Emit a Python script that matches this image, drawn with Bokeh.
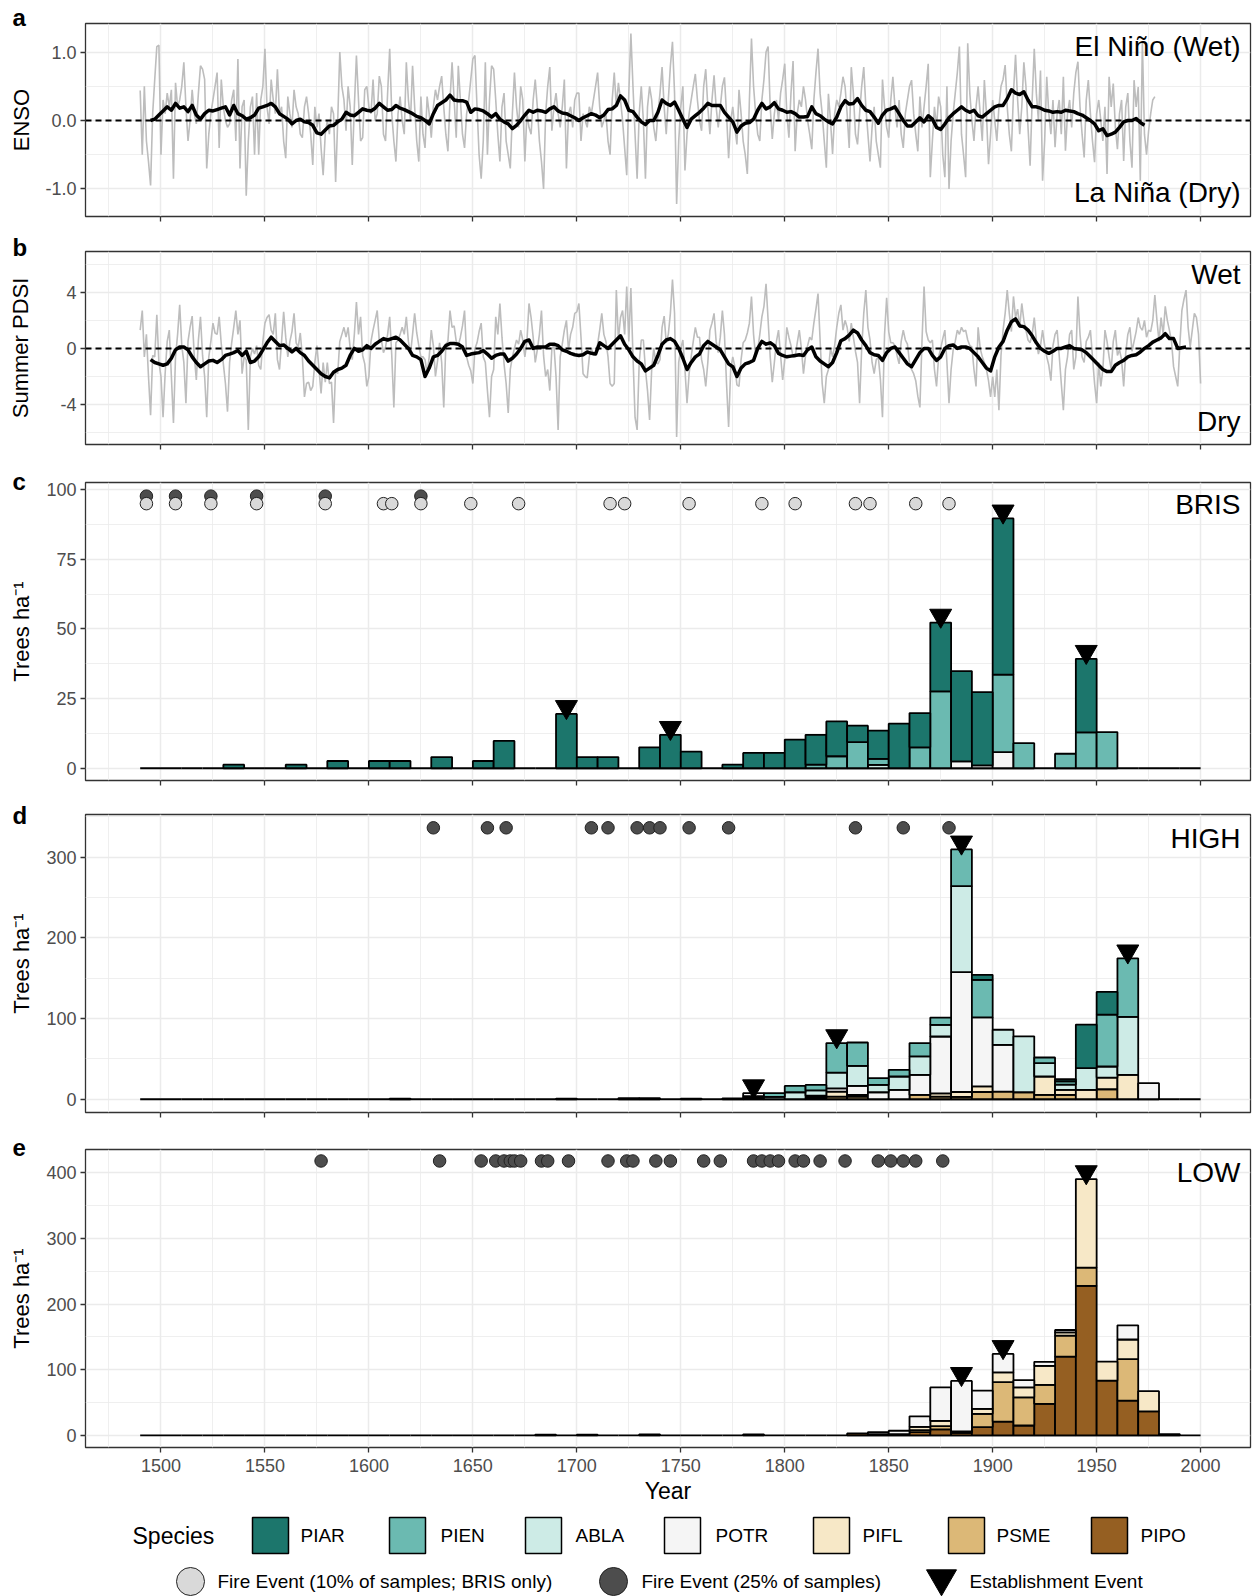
from bokeh.plotting import figure
from bokeh.layouts import column
from bokeh.models import Range1d, FixedTicker, Span, Label
from bokeh.embed import file_html
from bokeh.resources import INLINE
from bokeh.core.properties import value

# ---------------- DATA ----------------
# ENSO annual reconstruction (grey), one value per year from 1490
enso_start = 1490
enso_annual = [
    0.44, -0.5, 0.5, -0.3, -0.6, -0.95, 0.1, 0.6, 1.08, 1.1,
    -0.5, 0.3, 0.1, 0.4, 0.2, 0.45, -0.85, 0.55, 0.2, 0.3,
    0.5, 0.85, 0.2, -0.3, 0.0, 0.45, 0.1, -0.05, 0.4, 0.8,
    0.75, 0.6, -0.7, -0.2, 0.1, 0.3, 0.5, 0.7, -0.4, 0.6,
    0.2, 0.0, -0.1, -0.05, 0.3, 0.45, -0.3, 0.9, -0.7, 0.2,
    0.3, -1.1, -0.3, 0.2, 0.35, -0.5, 0.4, -0.5, 0.3, 0.5,
    1.05, 0.2, -0.05, 0.6, 0.3, 0.1, 0.75, 0.1, 0.2, -0.3,
    -0.55, 0.35, 0.1, -0.1, 0.45, 0.2, 0.1, -0.2, -0.25, 0.2,
    0.35, 0.1, -0.2, -0.65, 0.2, -0.1, 0.1, -0.4, -0.8, -0.2,
    0.0, -0.2, 0.2, 0.1, -0.9, 0.0, 1.0, 0.5, 0.3, -0.15,
    0.5, 0.2, -0.65, 0.2, 0.95, 0.3, -0.3, -0.25, 0.45, 0.5,
    0.2, 0.1, 0.6, 0.0, 0.1, 0.65, 0.5, -0.2, -0.3, 0.4,
    1.05, 0.1, -0.3, -0.6, 0.1, 0.35, 0.0, -0.2, 0.85, 0.3,
    0.0, 0.8, 0.2, -0.3, -0.6, 0.35, -0.2, -0.4, 0.35, 0.1,
    -0.25, 0.2, 0.45, 0.3, 0.5, 0.65, 0.2, -0.2, -0.45, 0.3,
    0.85, 0.3, -0.25, 0.8, 0.3, -0.2, -0.4, 0.1, 0.3, 0.6,
    0.9, 0.95, 0.2, -0.5, -0.85, -0.3, 0.85, -0.5, 0.3, 0.8,
    0.75, 0.3, -0.2, -0.6, 0.2, 0.4, -0.3, -0.5, -0.7, 0.1,
    0.7, 0.2, -0.1, 0.5, 0.3, -0.6, 0.1, -0.1, -0.2, 0.3,
    0.6, 0.2, -0.3, -0.6, -1.0, 0.1, 0.5, 0.78, -0.15, 0.2,
    0.4, 0.1, -0.1, 0.2, 0.6, -0.7, 0.1, 0.2, -0.1, 0.3,
    0.4, 0.4, -0.3, 0.1, 0.0, -0.1, 0.2, 0.1, 0.3, 0.5,
    0.7, 0.2, -0.1, 0.0, 0.1, -0.3, -0.5, 0.3, 0.7, 0.2,
    0.55, 0.3, 0.0, -0.4, -0.8, 0.4, 1.27, 0.5, -0.2, -0.85,
    0.1, 0.5, 0.0, -0.85, 0.2, 0.5, 0.3, -0.1, -0.3, 0.1,
    0.4, 0.78, 0.2, -0.2, 0.3, 0.8, 1.15, 0.4, -1.22, -0.3,
    0.2, 0.5, -0.73, -0.2, 0.1, 0.3, 0.5, 0.68, 0.3, 0.0,
    -0.15, 0.5, 0.75, 0.2, -0.2, 0.3, 0.66, 0.2, -0.1, 0.2,
    0.5, 0.63, 0.1, -0.55, 0.0, 0.2, -0.1, -0.35, 0.45, 0.1,
    -0.3, -0.5, -0.78, 0.3, 1.2, 0.5, 0.1, -0.2, -0.3, 0.3,
    0.6, 1.0, 1.08, 0.2, -0.27, 0.1, 0.3, 0.0, 0.4, 0.6,
    0.83, 0.1, -0.25, 0.4, 0.87, -0.45, 0.1, 0.3, 0.2, 0.5,
    0.3, 0.0, -0.2, -0.42, 0.3, 0.7, 1.05, 0.4, 0.1, -0.3,
    -0.69, 0.39, 0.0, -0.49, 0.1, 0.3, 0.2, 0.4, 0.64, 0.5,
    0.1, -0.4, 0.78, 0.4, -0.2, -0.35, 0.1, 0.5, 0.78, 0.2,
    -0.2, -0.6, -0.1, 0.2, -0.3, -0.5, -0.69, 0.6, 0.2, -0.1,
    -0.25, 0.3, 0.64, 0.2, -0.1, 0.3, -0.2, -0.4, 0.1, 0.3,
    0.5, 0.59, 0.1, -0.2, -0.45, 0.35, -0.1, 0.2, 0.5, 0.83,
    -0.83, -0.3, 0.2, -0.1, 0.35, 0.2, -0.5, -0.83, 0.5, -1.0,
    -0.3, 0.1, 0.4, 0.7, 1.08, -0.2, -0.5, -0.83, 1.13, 0.4,
    0.0, -0.3, 0.2, 0.5, 0.1, -0.3, 0.59, 0.1, -0.64, -0.2,
    0.3, 0.0, -0.3, 0.2, 0.5, 0.6, 0.81, 0.2, -0.2, -0.45,
    0.4, 0.96, 0.3, -0.2, 0.2, 0.85, 0.5, -0.1, -0.66, 0.3,
    1.05, 0.4, 0.0, 0.73, -0.88, -0.3, 0.64, 0.1, -0.2, 0.3,
    -0.39, 0.1, 0.3, -0.2, 0.64, -0.44, 0.1, 0.3, -0.1, 0.4,
    0.7, 0.86, 0.2, -0.2, -0.54, 0.3, 0.59, 0.1, -0.3, -0.61,
    0.1, 0.3, 0.0, -0.3, 0.2, -0.78, 0.64, 0.2, 0.54, -0.1,
    -0.42, 0.1, 0.3, -0.59, 0.2, 0.4, -0.3, -0.69, 0.59, 0.2,
    0.49, -0.88, 1.15, -0.2, -0.5, -0.15, 0.1, 0.3, 0.35,
]
# ENSO smoothed (black), every second year from 1495
enso_smooth_start = 1495
enso_smooth = [
    0.0, 0.02, 0.08, 0.14, 0.2, 0.15, 0.25, 0.18, 0.2, 0.13,
    0.22, 0.08, 0.02, 0.1, 0.15, 0.14, 0.16, 0.18, 0.2, 0.08,
    0.22, 0.1, 0.07, 0.02, 0.04, 0.08, 0.18, 0.2, 0.22, 0.25,
    0.2, 0.1, 0.06, 0.02, -0.05, 0.0, 0.02, -0.02, -0.03, -0.07,
    -0.18, -0.2, -0.14, -0.08, -0.07, -0.02, 0.02, 0.12, 0.08, 0.07,
    0.12, 0.17, 0.15, 0.14, 0.18, 0.25, 0.2, 0.15, 0.16, 0.22,
    0.18, 0.16, 0.13, 0.1, 0.06, 0.04, 0.0, -0.05, 0.1, 0.22,
    0.26, 0.3, 0.37, 0.3, 0.29, 0.29, 0.27, 0.12, 0.17, 0.16,
    0.14, 0.1, 0.05, 0.1, 0.02, -0.02, -0.05, -0.12, -0.07, 0.0,
    0.08, 0.15, 0.12, 0.15, 0.14, 0.12, 0.17, 0.2, 0.14, 0.11,
    0.1, 0.07, 0.04, 0.0, 0.04, 0.07, 0.1, 0.08, 0.04, 0.08,
    0.16, 0.17, 0.22, 0.36, 0.3, 0.15, 0.13, 0.05, -0.02, -0.06,
    0.0, 0.0, 0.12, 0.3, 0.25, 0.22, 0.27, 0.15, 0.02, -0.1,
    0.02, 0.07, 0.12, 0.18, 0.25, 0.22, 0.22, 0.22, 0.12, 0.05,
    -0.02, -0.17, -0.08, -0.04, -0.03, 0.02, 0.15, 0.25, 0.17, 0.2,
    0.26, 0.17, 0.15, 0.12, 0.13, 0.1, 0.05, 0.05, 0.06, 0.2,
    0.1, 0.07, 0.02, -0.02, -0.05, 0.05, 0.2, 0.29, 0.24, 0.25,
    0.32, 0.22, 0.15, 0.13, 0.05, -0.04, 0.08, 0.15, 0.17, 0.2,
    0.1, 0.0, -0.08, -0.08, -0.02, 0.04, -0.02, 0.07, 0.02, -0.1,
    -0.13, -0.05, 0.04, 0.1, 0.15, 0.2, 0.15, 0.12, 0.15, 0.07,
    0.05, 0.1, 0.15, 0.2, 0.22, 0.22, 0.32, 0.45, 0.4, 0.38,
    0.42, 0.3, 0.2, 0.2, 0.18, 0.15, 0.14, 0.12, 0.13, 0.12,
    0.15, 0.14, 0.13, 0.1, 0.08, 0.04, 0.0, -0.05, -0.15, -0.12,
    -0.22, -0.2, -0.17, -0.1, -0.02, 0.0, 0.0, 0.03, -0.03, -0.07,
]
# Summer PDSI annual (grey), one value per year from 1490
pdsi_start = 1490
pdsi_annual = [
    1.3, 2.7, -0.6, 1.0, -2.0, -4.75, -0.5, -0.6, 2.4, -1.0,
    -2.0, -4.9, -1.8, 0.5, 1.3, -2.0, -5.3, -0.6, 1.0, 3.1,
    0.2, -1.0, -3.9, 0.5, 1.5, 2.3, -0.5, -2.25, 0.6, 2.25,
    -0.5, -2.0, -4.9, -0.6, 0.5, 1.8, 1.1, 1.0, 2.25, 0.3,
    -1.1, -2.5, -4.5, -1.0, 0.4, 1.5, 2.7, 1.0, 2.0, -1.8,
    -0.6, -0.8, -5.8, -0.6, 0.0, -0.4, 0.2, -1.2, -1.5, 0.5,
    1.8, 2.2, 2.4, 1.3, 1.0, 2.5, -0.8, -1.5, 0.5, 2.6,
    0.8, -0.6, 0.5, 1.2, 2.5, 0.4, 0.1, 1.1, -0.6, -3.45,
    -2.5, -2.4, -3.0, -2.7, -1.0, 0.2, -1.5, -3.2, -1.0, -2.4,
    -1.0, -2.5, -2.4, -5.3, -1.5, -1.8, 0.5, 1.0, 1.5, 0.8,
    1.5, 0.0, -0.8, 1.0, 3.3, 1.0, 2.25, -0.5, -1.1, -2.7,
    -2.0, 0.5, 1.3, 2.0, 2.7, 0.5, 0.6, -0.3, 0.1, 1.0,
    2.25, -0.5, -4.2, 0.4, 0.6, 1.0, 1.5, 1.0, 2.25, 0.5,
    -0.4, 1.0, 2.5, 1.1, 0.2, -0.6, -0.6, -0.8, -1.8, -0.6,
    1.3, 0.2, -2.0, -0.9, 0.4, -1.0, -4.2, 0.3, 0.5, 2.7,
    1.5, 1.6, 0.5, 0.2, 0.8, 1.6, 2.7, -0.6, -1.2, -1.6,
    -2.5, 0.0, 0.4, 1.2, 1.8, -0.6, -1.0, -3.0, -4.9, -2.0,
    -1.5, 2.25, 1.0, 3.2, 0.8, -1.1, -2.5, -4.6, -1.5, -0.6,
    0.0, 0.6, 0.3, 1.3, 0.6, -0.6, 0.5, 3.2, 2.2, 0.8,
    -1.0, -0.1, 1.0, 2.7, -0.5, -2.0, -1.5, -3.0, 0.0, 0.2,
    -2.0, -5.8, -0.6, 0.3, 1.3, 2.0, -0.1, 1.0, 1.5, 2.5,
    2.6, 3.2, 0.8, -1.8, -2.0, -2.1, -0.6, 0.0, -0.5, -0.4,
    0.3, 1.3, 2.5, 1.0, 0.5, -0.6, -2.5, -2.7, -2.5, 4.15,
    0.6, 2.2, 2.7, 1.0, 4.4, 0.5, 4.3, -0.5, -4.9, -5.8,
    -1.0, 0.6, 0.6, -1.5, -3.0, -5.1, -1.5, 0.0, -1.0, -1.1,
    -0.8, 1.5, 2.3, 0.4, 1.0, 2.5, 4.9, 2.5, -6.3, -1.0,
    0.0, 0.6, -1.5, -3.9, -1.8, -0.6, 0.5, 1.5, 0.8, 0.8,
    -0.8, -1.5, -2.7, -1.0, 1.3, 1.8, 2.5, 0.5, -0.3, 0.8,
    2.7, 1.0, -2.5, -5.6, -1.5, -0.6, -1.3, -2.6, -2.7, -0.8,
    0.4, 0.6, 1.1, 1.8, 3.7, 1.0, -0.6, -0.1, 1.0, 2.25,
    3.0, 4.6, 2.0, -0.6, -2.4, -1.0, 0.5, 1.3, -0.5, -2.25,
    -0.8, 1.5, 0.8, 0.2, -0.6, -0.6, 0.4, 1.3, 0.0, -1.8,
    -0.5, 0.2, 0.8, 0.6, 1.8, 2.8, 3.9, 0.6, -2.5, -3.9,
    -2.0, -1.5, 0.0, -0.6, 0.2, 1.5, 2.5, 3.1, 1.3, 2.0,
    1.5, 0.5, 1.8, 0.8, -0.2, -1.0, -3.9, 0.0, 2.5, 4.15,
    1.5, 0.6, -1.0, -1.8, -0.8, -0.6, -2.2, -4.9, 1.0, 3.6,
    1.2, 0.4, 0.4, 0.2, -0.5, -1.1, 0.5, 1.3, 0.6, 0.3,
    -1.0, -1.5, -1.8, -2.3, -3.4, -4.2, 0.5, 4.4, 1.2, 0.6,
    0.4, 0.6, -1.5, -2.7, -0.6, 0.0, 0.7, 1.3, -1.0, -3.9,
    -1.5, -0.1, 0.5, 1.3, 1.0, 1.5, 1.2, 1.3, 0.6, 0.2,
    0.1, -1.5, -2.7, 1.5, 0.0, -0.6, -1.0, -1.5, -2.3, -3.45,
    -2.0, -3.45, -1.5, -4.4, -0.5, 1.3, 2.5, 4.15, 2.5, 1.2,
    3.7, 2.2, 2.8, 1.5, 3.2, 2.0, 1.3, 0.6, 0.4, 1.0,
    2.2, 0.6, -0.4, 0.2, 1.3, 0.2, -0.6, -1.2, -2.3, 0.2,
    1.0, 1.3, -0.5, -2.5, -4.4, -1.5, -0.6, 1.0, 1.3, -1.5,
    -0.6, 3.7, 1.0, -0.6, -1.0, 0.5, 0.8, 1.3, -0.6, -2.5,
    -3.9, -1.0, -2.7, -1.5, 1.3, 0.5, -0.6, -1.5, 0.5, 1.3,
    -0.5, -0.1, -0.8, -2.7, -0.3, 1.0, 1.5, -0.2, 0.5, 1.2,
    2.2, 1.5, 1.3, 2.0, 0.8, 1.3, 1.2, 2.0, 3.8, 2.0,
    0.5, 2.2, 1.0, 3.0, 2.0, 1.3, 0.5, -1.3, -2.0, -2.7,
    0.2, 2.7, 3.5, 4.15, 1.5, 0.1, 1.3, 2.5, 2.2, 1.0,
    -2.5,
]
# Summer PDSI smoothed (black), every second year from 1495
pdsi_smooth_start = 1495
pdsi_smooth = [
    -0.8, -1.0, -1.1, -1.2, -1.1, -0.7, -0.1, 0.1, 0.1, -0.1,
    -0.6, -1.0, -1.3, -1.1, -0.9, -0.85, -1.0, -0.8, -0.5, -0.4,
    -0.3, -0.15, -0.5, -0.2, -1.0, -0.9, -0.6, -0.1, 0.4, 0.8,
    0.5, 0.2, 0.25, 0.0, -0.25, 0.0, -0.3, -0.5, -0.9, -1.2,
    -1.5, -1.8, -2.0, -2.1, -1.7, -1.5, -1.4, -1.2, -0.5, 0.0,
    -0.2, -0.1, 0.2, 0.0, 0.3, 0.5, 0.7, 0.6, 0.7, 0.8,
    0.6, 0.3, 0.0, -0.5, -0.6, -0.8, -2.0, -1.4, -0.6, -0.5,
    -0.2, 0.2, 0.35, 0.35, 0.3, 0.1, -0.5, -0.4, -0.35, -0.3,
    -0.15, -0.4, -0.7, -0.5, -0.4, -0.4, -0.9, -0.7, -0.4, 0.0,
    0.5, 0.6, 0.0, 0.1, 0.1, 0.1, 0.3, 0.3, 0.2, -0.1,
    -0.2, -0.35, -0.45, -0.5, -0.45, -0.25, -0.35, -0.4, 0.4, 0.2,
    0.0, 0.3, 0.6, 0.9, 0.3, -0.1, -0.6, -0.9, -1.1, -1.6,
    -1.4, -1.2, -0.5, 0.3, 0.6, 0.7, 0.5, 0.0, -0.7, -1.5,
    -1.0, -0.6, -0.4, 0.2, 0.5, 0.3, 0.1, -0.1, -0.6, -1.1,
    -1.3, -2.0, -1.4, -1.1, -1.0, -0.85, 0.0, 0.5, 0.3, 0.4,
    0.2, -0.35, -0.5, -0.6, -0.55, -0.5, -0.45, -0.5, -0.1, 0.1,
    -0.6, -0.9, -1.1, -1.3, -1.0, -0.3, 0.55, 0.7, 0.95, 1.3,
    1.1, 0.6, 0.2, -0.3, -0.45, -0.5, -0.85, -0.3, 0.0, 0.1,
    -0.3, -0.7, -1.1, -1.3, -0.8, -0.3, 0.0, 0.0, -0.5, -0.85,
    -0.6, 0.0, 0.2, 0.25, 0.0, 0.1, 0.1, 0.0, -0.3, -0.6,
    -1.0, -1.4, -1.6, -0.6, 0.1, 0.5, 1.3, 1.9, 2.1, 1.6,
    1.55, 1.3, 0.9, 0.4, 0.0, -0.2, -0.35, -0.2, 0.0, 0.0,
    0.1, 0.2, 0.0, -0.05, -0.1, -0.3, -0.6, -0.9, -1.2, -1.5,
    -1.65, -1.65, -1.2, -1.0, -0.85, -0.6, -0.5, -0.45, -0.25, 0.0,
    0.2, 0.45, 0.6, 0.75, 1.05, 0.7, 0.7, 0.0, 0.05, 0.1,
]

# Establishment (trees per ha) in 10-year bins, labelled by bin centre
bin_centres = [1495, 1505, 1515, 1525, 1535, 1545, 1555, 1565, 1575, 1585,
               1595, 1605, 1615, 1625, 1635, 1645, 1655, 1665, 1675, 1685,
               1695, 1705, 1715, 1725, 1735, 1745, 1755, 1765, 1775, 1785,
               1795, 1805, 1815, 1825, 1835, 1845, 1855, 1865, 1875, 1885,
               1895, 1905, 1915, 1925, 1935, 1945, 1955, 1965, 1975, 1985, 1995]

bris_years = [1535, 1565, 1585, 1605, 1615, 1635, 1655, 1665, 1695, 1705,
              1715, 1735, 1745, 1755, 1775, 1785, 1795, 1805, 1815, 1825,
              1835, 1845, 1855, 1865, 1875, 1885, 1895, 1905, 1915, 1935,
              1945, 1955]
bris_PIAR = [1.3, 1.3, 2.6, 2.6, 2.6, 4.0, 2.6, 9.8, 19.5, 4.0,
             4.0, 7.5, 12.0, 6.0, 1.3, 5.5, 5.5, 10.3, 10.7, 12.5,
             5.9, 10.1, 16.0, 12.3, 24.7, 32.4, 26.3, 56.1, 0, 0,
             26.4, 0]
bris_PIEN = [0, 0, 0, 0, 0, 0, 0, 0, 0, 0,
             0, 0, 0, 0, 0, 0, 0, 0, 1.3, 4.3,
             9.4, 2.2, 0, 7.5, 27.6, 0, 0, 27.8, 9.0, 5.2,
             12.9, 13.0]
bris_ABLA = [0, 0, 0, 0, 0, 0, 0, 0, 0, 0,
             0, 0, 0, 0, 0, 0, 0, 0, 0, 0,
             0, 1.2, 0, 0, 0, 0, 0, 0, 0, 0,
             0, 0]
bris_POTR = [0, 0, 0, 0, 0, 0, 0, 0, 0, 0,
             0, 0, 0, 0, 0, 0, 0, 0, 0, 0,
             0, 0, 0, 0, 0, 2.5, 1.0, 5.8, 0, 0,
             0, 0]

high_years = [1615, 1695, 1725, 1735, 1755, 1775, 1785, 1795, 1805, 1815,
              1825, 1835, 1845, 1855, 1865, 1875, 1885, 1895, 1905, 1915,
              1925, 1935, 1945, 1955, 1965, 1975]
high_PIAR = [0, 0, 0, 0, 0, 0, 0, 0, 0, 0,
             0, 0, 0, 0, 0, 0, 0, 6.2, 0, 0,
             0, 2.5, 54.0, 28.2, 0, 0]
high_PIEN = [0.8, 0, 0, 0, 0, 0, 0, 4.5, 7.9, 6.8,
             36.5, 29.0, 8.3, 8.3, 16.6, 9.0, 45.6, 46.5, 0, 0,
             7.0, 4.1, 0, 64.3, 72.6, 0]
high_ABLA = [0, 0, 0, 0, 0, 0, 0, 3.0, 8.7, 6.5,
             19.5, 24.9, 9.1, 16.6, 22.8, 14.5, 106.6, 0, 18.7, 69.3,
             16.6, 6.6, 27.0, 13.7, 71.8, 0]
high_POTR = [0, 0.8, 1.5, 1.5, 0.8, 1.2, 3.5, 0, 0, 2.0,
             4.1, 11.2, 8.7, 11.6, 24.9, 70.5, 148.5, 85.5, 58.0, 0,
             0, 0, 0, 0, 0, 20.0]
high_PIFL = [0, 0, 0, 0, 0, 0, 2.0, 0, 0, 0,
             6.2, 2.0, 0, 0, 0, 4.0, 6.0, 7.0, 0, 0,
             22.8, 6.2, 11.6, 14.5, 30.3, 0]
high_PSME = [0, 0, 0, 0, 0, 0, 2.0, 0, 0, 2.5,
             3.3, 3.3, 0, 0, 5.4, 3.3, 3.0, 9.0, 9.5, 8.7,
             5.4, 5.4, 0, 12.4, 0, 0]

low_years = [1685, 1705, 1735, 1785, 1835, 1845, 1855, 1865, 1875, 1885,
             1895, 1905, 1915, 1925, 1935, 1945, 1955, 1965, 1975, 1985]
low_PIPO = [1.0, 1.0, 1.5, 1.5, 3.0, 2.0, 2.0, 5.0, 9.0, 4.0,
            12.6, 21.0, 15.0, 48.0, 120.0, 227.6, 83.5, 53.0, 36.4, 2.0]
low_PSME = [0, 0, 0, 0, 0, 0, 0, 3.0, 5.0, 2.0,
            20.2, 60.0, 43.0, 29.0, 32.0, 27.8, 0, 63.0, 0, 0]
low_PIFL = [0, 0, 0, 0, 0, 0, 0, 5.0, 8.0, 0,
            7.6, 15.0, 15.0, 29.0, 5.0, 135.0, 28.8, 30.0, 30.9, 0]
low_POTR = [0, 0, 0, 0, 0, 3.0, 5.0, 16.0, 51.0, 77.0,
            27.8, 28.0, 11.0, 6.0, 3.5, 0, 0, 21.7, 0, 0]

# Fire events (years) and the row height at which they are drawn
bris_fire10 = [1493, 1507, 1524, 1546, 1579, 1607, 1611, 1625, 1649, 1672,
               1716, 1723, 1754, 1789, 1805, 1834, 1841, 1863, 1879]
bris_fire25 = [1493, 1507, 1524, 1546, 1579, 1625]
high_fire25 = [1631, 1657, 1666, 1707, 1715, 1729, 1735, 1740, 1754, 1773,
               1834, 1857, 1879]
low_fire25 = [1577, 1634, 1654, 1661, 1665, 1668, 1670, 1673, 1683, 1686,
              1696, 1715, 1724, 1727, 1738, 1745, 1761, 1769, 1785, 1789,
              1793, 1797, 1805, 1809, 1817, 1829, 1845, 1851, 1857, 1863, 1876]
bris_fire25_level = 97.7
bris_fire10_level = 95.0
high_fire_level = 336.5
low_fire_level = 418.0

# Establishment events (bin centres)
bris_est = [1695, 1745, 1875, 1905, 1945]
high_est = [1785, 1825, 1885, 1965]
low_est = [1885, 1905, 1945]

species = ["PIAR", "PIEN", "ABLA", "POTR", "PIFL", "PSME", "PIPO"]

# ---------------- STYLE ----------------
FONT = "Liberation Sans"
COLORS = {"PIAR": "#1c766c", "PIEN": "#6bbab1", "ABLA": "#cdebe6",
          "POTR": "#f5f5f5", "PIFL": "#f7e8c7", "PSME": "#dcb877",
          "PIPO": "#955f22"}
STACK_ORDER = ["PIPO", "PSME", "PIFL", "POTR", "ABLA", "PIEN", "PIAR"]
W = 1252
LEFT = 85
RIGHT = 2
FRAME_W = W - LEFT - RIGHT
X_RANGE = (1463.7, 2024.0)
BIN_HALF = 5
GRID = "#ebebeb"


def panel(height, top, bottom, yr, yticks, yminor, ylabels, ytitle, title_standoff,
          tag_letter, tag_standoff, xlabels=False):
    p = figure(width=W, height=height, x_range=Range1d(*X_RANGE), y_range=Range1d(*yr),
               output_backend="svg", toolbar_location=None,
               min_border_left=LEFT, min_border_right=RIGHT,
               min_border_top=top, min_border_bottom=bottom, title=tag_letter)
    p.title.align = "left"
    p.title.offset = 12 - LEFT
    p.title.standoff = tag_standoff
    p.title.vertical_align = "bottom"
    p.title.text_font = FONT
    p.title.text_font_size = "24px"
    p.title.text_font_style = "bold"
    p.title.text_color = "black"
    p.outline_line_color = "#333333"
    p.outline_line_width = 1.3
    p.background_fill_color = "white"
    p.border_fill_color = "white"
    xt = FixedTicker(ticks=list(range(1500, 2001, 50)), minor_ticks=list(range(1475, 2026, 50)))
    p.xaxis.ticker = xt
    yt = FixedTicker(ticks=yticks, minor_ticks=yminor)
    p.yaxis.ticker = yt
    for g in (p.xgrid, p.ygrid):
        g.grid_line_color = GRID
        g.grid_line_width = 1.5
        g.minor_grid_line_color = GRID
        g.minor_grid_line_width = 0.8
    for ax in (p.xaxis, p.yaxis):
        ax.axis_line_color = None
        ax.major_tick_line_color = "#333333"
        ax.major_tick_line_width = 1.3
        ax.major_tick_out = 5
        ax.major_tick_in = 0
        ax.minor_tick_line_color = None
        ax.major_label_text_font = FONT
        ax.major_label_text_color = "#4d4d4d"
        ax.axis_label_text_font = FONT
        ax.axis_label_text_font_style = "normal"
        ax.axis_label_text_color = "black"
    p.yaxis.major_label_text_font_size = "18px"
    p.yaxis.major_label_overrides = {t: s for t, s in zip(yticks, ylabels)}
    p.yaxis.axis_label = ytitle
    p.yaxis.axis_label_text_font_size = "22px"
    p.yaxis.axis_label_standoff = title_standoff
    p.yaxis.major_label_standoff = 4
    if xlabels:
        p.xaxis.major_label_text_font_size = "18px"
        p.xaxis.major_label_standoff = 6
        p.xaxis.axis_label = "Year"
        p.xaxis.axis_label_text_font_size = "23px"
        p.xaxis.axis_label_standoff = 3
    else:
        p.xaxis.major_label_text_font_size = "1px"
        p.xaxis.major_label_standoff = 0
        p.xaxis.major_label_overrides = {t: "" for t in range(1500, 2001, 50)}
    return p


def corner_text(p, text, frame_h, from_top=None, from_bottom=None):
    y = frame_h - from_top if from_top is not None else from_bottom
    p.add_layout(Label(x=FRAME_W - 10, y=y, x_units="screen", y_units="screen",
                       text=text, text_font=FONT, text_font_size="28px",
                       text_color="black", text_align="right", text_baseline="middle"))


def draw_bars(p, years, comp):
    p.quad(left=[b - BIN_HALF for b in bin_centres], right=[b + BIN_HALF for b in bin_centres],
           bottom=[0] * len(bin_centres), top=[0] * len(bin_centres),
           fill_color=None, line_color="black", line_width=1.8)
    tops = [0.0] * len(years)
    for sp in STACK_ORDER:
        vals = comp.get(sp)
        if vals is None:
            continue
        assert len(vals) == len(years), sp
        L, R, B, T = [], [], [], []
        for i, (yr, v) in enumerate(zip(years, vals)):
            if v > 0:
                L.append(yr - BIN_HALF)
                R.append(yr + BIN_HALF)
                B.append(tops[i])
                T.append(tops[i] + v)
                tops[i] += v
        if L:
            p.quad(left=L, right=R, bottom=B, top=T, fill_color=COLORS[sp],
                   line_color="black", line_width=1.8)
    return dict(zip(years, tops))


def draw_est(p, est, totals, yr, frame_h):
    per_px = (yr[1] - yr[0]) / frame_h
    ys = [totals[e] + 7.0 * per_px for e in est]
    p.scatter(x=est, y=ys, marker="inverted_triangle", size=22,
              fill_color="black", line_color="black", line_width=1)


def draw_fires(p, years, level, fill):
    p.scatter(x=years, y=[level] * len(years), marker="circle", size=12.5,
              fill_color=fill, line_color="#222222", line_width=1)


# ---------------- PANEL A: ENSO ----------------
ya = (-1.403, 1.418)
HA, TA, BA = 233, 23, 17
pa = panel(HA, TA, BA, ya, [-1, 0, 1], [-1.5, -0.5, 0.5, 1.5], ["-1.0", "0.0", "1.0"], "ENSO",
           8, "a", -14)
fa = HA - TA - BA
pa.add_layout(Span(location=0, dimension="width", line_color="black", line_width=2,
                   line_dash="6 4"))
pa.line(x=list(range(enso_start, enso_start + len(enso_annual))), y=enso_annual,
        line_color="#bdbdbd", line_width=1.6)
pa.line(x=list(range(enso_smooth_start, enso_smooth_start + 2 * len(enso_smooth), 2)), y=enso_smooth,
        line_color="black", line_width=3.5, line_join="round")
corner_text(pa, "El Niño (Wet)", fa, from_top=22.5)
corner_text(pa, "La Niña (Dry)", fa, from_bottom=24.5)

# ---------------- PANEL B: PDSI ----------------
yb = (-6.84, 6.9)
HB, TB, BB = 230, 18, 19
pb = panel(HB, TB, BB, yb, [-4, 0, 4], [-6, -2, 2, 6], ["-4", "0", "4"], "Summer PDSI",
           24, "b", -18)
fb = HB - TB - BB
pb.add_layout(Span(location=0, dimension="width", line_color="black", line_width=2,
                   line_dash="6 4"))
pb.line(x=list(range(pdsi_start, pdsi_start + len(pdsi_annual))), y=pdsi_annual,
        line_color="#bdbdbd", line_width=1.6)
pb.line(x=list(range(pdsi_smooth_start, pdsi_smooth_start + 2 * len(pdsi_smooth), 2)), y=pdsi_smooth,
        line_color="black", line_width=3.5, line_join="round")
corner_text(pb, "Wet", fb, from_top=22.5)
corner_text(pb, "Dry", fb, from_bottom=23.5)

TREES = "Trees ha\u207b\u00b9"

# ---------------- PANEL C: BRIS ----------------
yc = (-4.4, 102.6)
HC, TC, BC = 334, 19, 17
pc = panel(HC, TC, BC, yc, [0, 25, 50, 75, 100], [12.5, 37.5, 62.5, 87.5],
           ["0", "25", "50", "75", "100"], TREES, 9, "c", -24)
fc = HC - TC - BC
tot_c = draw_bars(pc, bris_years, {"PIAR": bris_PIAR, "PIEN": bris_PIEN,
                                   "ABLA": bris_ABLA, "POTR": bris_POTR})
draw_fires(pc, bris_fire25, bris_fire25_level, "#4d4d4d")
draw_fires(pc, bris_fire10, bris_fire10_level, "#d9d9d9")
draw_est(pc, bris_est, tot_c, yc, fc)
corner_text(pc, "BRIS", fc, from_top=21.5)

# ---------------- PANEL D: HIGH ----------------
yd = (-16.4, 353.0)
HD, TD, BD = 334, 17, 19
pd_ = panel(HD, TD, BD, yd, [0, 100, 200, 300], [50, 150, 250, 350],
            ["0", "100", "200", "300"], TREES, 9, "d", -28)
fd = HD - TD - BD
tot_d = draw_bars(pd_, high_years, {"PIAR": high_PIAR, "PIEN": high_PIEN, "ABLA": high_ABLA,
                                     "POTR": high_POTR, "PIFL": high_PIFL, "PSME": high_PSME})
draw_fires(pd_, high_fire25, high_fire_level, "#4d4d4d")
draw_est(pd_, high_est, tot_d, yd, fd)
corner_text(pd_, "HIGH", fd, from_top=23.5)

# ---------------- PANEL E: LOW ----------------
ye = (-18.5, 435.5)
HE, TE, BE = 377, 18, 61
pe = panel(HE, TE, BE, ye, [0, 100, 200, 300, 400], [50, 150, 250, 350],
           ["0", "100", "200", "300", "400"], TREES, 9, "e", -12, xlabels=True)
fe = HE - TE - BE
tot_e = draw_bars(pe, low_years, {"POTR": low_POTR, "PIFL": low_PIFL,
                                  "PSME": low_PSME, "PIPO": low_PIPO})
draw_fires(pe, low_fire25, low_fire_level, "#4d4d4d")
draw_est(pe, low_est, tot_e, ye, fe)
corner_text(pe, "LOW", fe, from_top=22.5)

# ---------------- LEGEND ----------------
LH = 88
pl = figure(width=W, height=LH, x_range=Range1d(LEFT, W - RIGHT), y_range=Range1d(LH, 0),
            output_backend="svg", toolbar_location=None,
            min_border_left=LEFT, min_border_right=RIGHT, min_border_top=0, min_border_bottom=0)
pl.axis.visible = False
pl.grid.visible = False
pl.outline_line_color = None
pl.background_fill_color = "white"
pl.border_fill_color = "white"

row1_y = 27
row2_y = 73
box_left = [252, 389, 525, 664, 813, 948, 1091]
label_left = [300, 440, 575, 715, 862, 996, 1140]
pl.text(x=[132], y=[row1_y], text=["Species"], text_font=value(FONT), text_font_size="23px",
        text_baseline="middle", text_align="left", text_color="black")
pl.quad(left=box_left, right=[b + 36 for b in box_left],
        top=[row1_y - 18] * 7, bottom=[row1_y + 18] * 7,
        fill_color=[COLORS[s] for s in species], line_color="black", line_width=1.5)
pl.text(x=label_left, y=[row1_y] * 7, text=species, text_font=value(FONT), text_font_size="19px",
        text_baseline="middle", text_align="left", text_color="black")

pl.scatter(x=[190], y=[row2_y], marker="circle", size=28, fill_color="#d9d9d9",
           line_color="#222222", line_width=1)
pl.scatter(x=[613], y=[row2_y], marker="circle", size=28, fill_color="#4d4d4d",
           line_color="#222222", line_width=1)
pl.scatter(x=[941], y=[row2_y - 3], marker="inverted_triangle", size=30, fill_color="black",
           line_color="black")
pl.text(x=[217, 641, 969], y=[row2_y] * 3,
        text=["Fire Event (10% of samples; BRIS only)", "Fire Event (25% of samples)",
              "Establishment Event"],
        text_font=value(FONT), text_font_size="19px", text_baseline="middle",
        text_align="left", text_color="black")

layout = column(pa, pb, pc, pd_, pe, pl, spacing=0)
open("out.html", "w").write(file_html(layout, INLINE))
